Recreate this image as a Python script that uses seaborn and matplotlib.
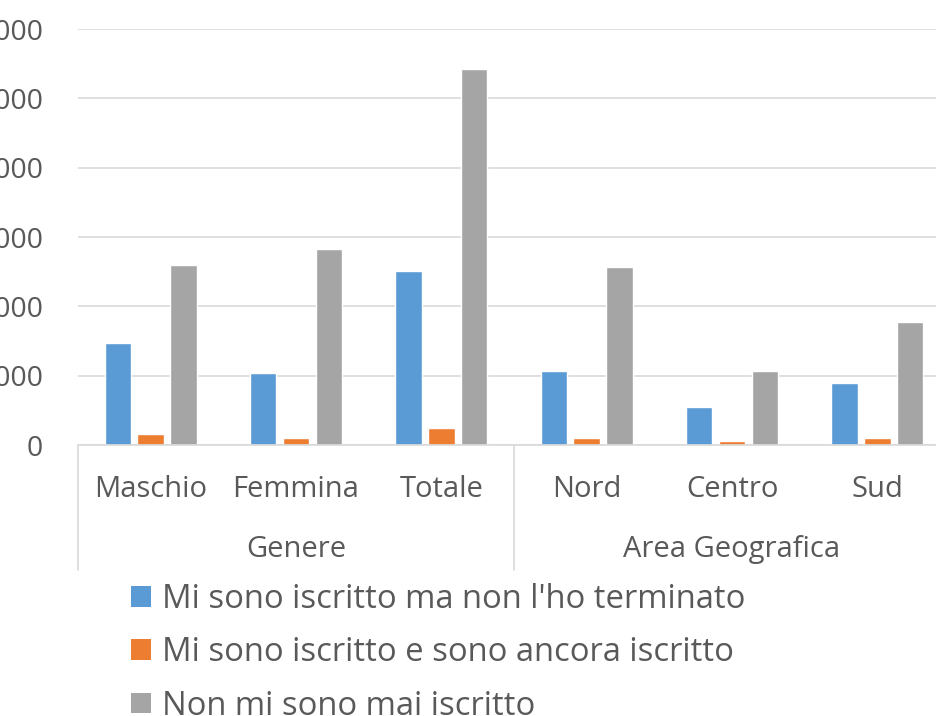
import pandas as pd
import seaborn as sns
import matplotlib.pyplot as plt
from matplotlib.patches import Patch
from matplotlib import transforms

# dati
categorie = ['Maschio', 'Femmina', 'Totale', 'Nord', 'Centro', 'Sud']
gruppi = ['Genere', 'Area Geografica']
serie = ["Mi sono iscritto ma non l'ho terminato",
         'Mi sono iscritto e sono ancora iscritto',
         'Non mi sono mai iscritto']
non_terminato = [1470, 1037, 2507, 1066, 548, 893]
ancora_iscritto = [160, 100, 250, 100, 55, 100]
mai_iscritto = [2594, 2824, 5418, 2565, 1066, 1772]
y_ticks = [0, 1000, 2000, 3000, 4000, 5000, 6000]
colori = ['#5B9BD5', '#ED7D31', '#A5A5A5']

righe = []
for s, valori in zip(serie, [non_terminato, ancora_iscritto, mai_iscritto]):
    for c, v in zip(categorie, valori):
        righe.append({'categoria': c, 'serie': s, 'valore': v})
df = pd.DataFrame(righe)

sns.set_style('white')
plt.rcParams['font.family'] = ['Open Sans', 'DejaVu Sans']
testo = '#595959'
griglia = '#D9D9D9'

fig = plt.figure(figsize=(9.37, 7.16), dpi=100)
ax = fig.add_axes([78 / 937, 1 - 445 / 716, 872 / 937, 416 / 716])

sns.barplot(data=df, x='categoria', y='valore', hue='serie', order=categorie,
            hue_order=serie, palette=colori, width=0.68, gap=0.2,
            saturation=1, ax=ax, legend=False)

ax.set_xlim(-0.5, len(categorie) - 0.5)
ax.set_ylim(0, 6000)
ax.set_yticks(y_ticks)
ax.set_yticklabels([str(t) for t in y_ticks], fontsize=20.5, color=testo)
ax.tick_params(axis='y', length=0, pad=25)
ax.yaxis.grid(True, color=griglia, linewidth=1.2)
ax.set_axisbelow(True)
for lato in ['left', 'right', 'top']:
    ax.spines[lato].set_visible(False)
ax.spines['bottom'].set_color(griglia)
ax.spines['bottom'].set_linewidth(1.2)
ax.set_xlabel('')
ax.set_ylabel('')

# etichette categorie e gruppi
ax.set_xticks([])
trans = transforms.blended_transform_factory(ax.transData, ax.transAxes)
for i, c in enumerate(categorie):
    ax.text(i, -0.108, c, transform=trans, ha='center', va='center',
            fontsize=21, color=testo)
ax.text(1, -0.252, gruppi[0], transform=trans, ha='center', va='center',
        fontsize=21, color=testo)
ax.text(4, -0.252, gruppi[1], transform=trans, ha='center', va='center',
        fontsize=21, color=testo)
for xs in [-0.5, 2.5, 5.5]:
    ax.plot([xs, xs], [0, -0.3], transform=trans, color=griglia,
            linewidth=1.2, clip_on=False)

# legenda
maniglie = [Patch(facecolor=col, edgecolor='none') for col in colori]
fig.legend(maniglie, serie, loc='upper left', bbox_to_anchor=(131 / 937, 1 - 583 / 716),
           frameon=False, fontsize=23.6, labelcolor=testo, handlelength=0.6,
           handleheight=0.6, handletextpad=0.35, labelspacing=0.62,
           borderaxespad=0, borderpad=0)

fig.savefig('out.png', dpi=100)
